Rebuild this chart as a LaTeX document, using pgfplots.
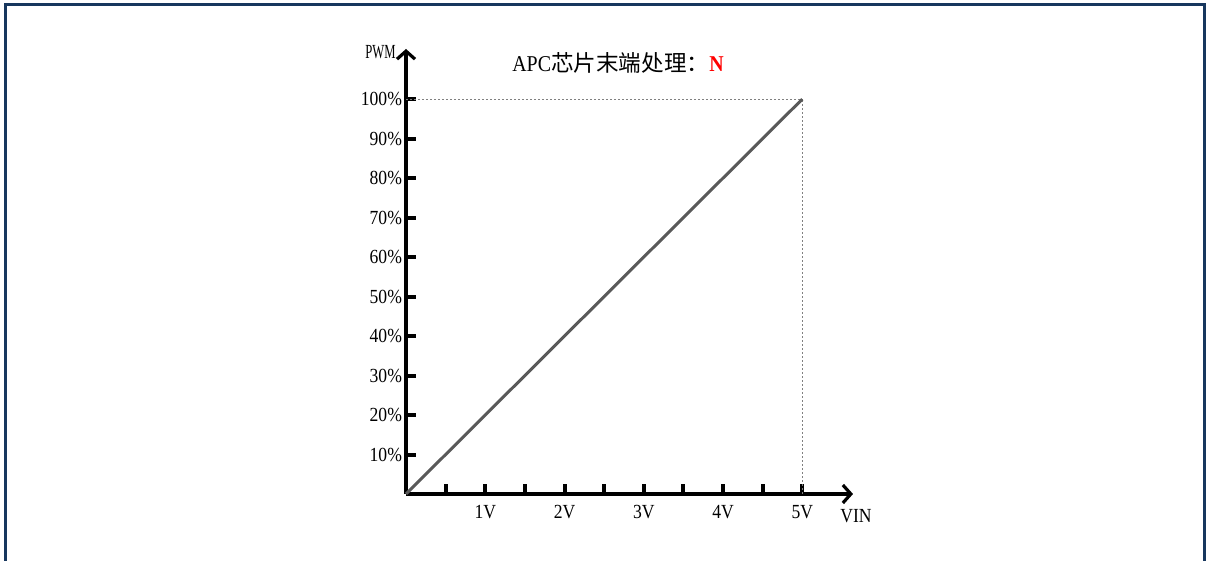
\documentclass[border=0pt]{standalone}
\usepackage{fontspec}
\setmainfont{Liberation Serif}[FakeStretch=0.88]
\newfontfamily\cjk{Noto Sans CJK SC}
\usepackage{xcolor}
\usepackage{graphicx}
\usepackage{pgfplots}
\pgfplotsset{compat=1.18}
\usetikzlibrary{arrows.meta}

\definecolor{frameblue}{RGB}{23,55,94}
\definecolor{linegray}{RGB}{89,89,89}

\begin{document}
\begin{tikzpicture}
  % canvas in reference pixels (1 px = 0.5pt)
  \begin{scope}[x=0.5pt,y=0.5pt]
    \useasboundingbox (0,0) rectangle (1207,561);
    \draw[frameblue, line width=1.5pt] (5,0) -- (5,556) -- (1204,556) -- (1204,0);
    \node at (618,498) {\fontsize{11.3}{13}\selectfont APC{\cjk 芯片末端处理：}\textcolor{red}{\textbf{N}}};
    \node[anchor=east, inner sep=0pt] at (396,509) {\fontsize{10}{12}\selectfont\scalebox{0.72}[1]{PWM}};
    \node[inner sep=0pt] at (856,45) {\fontsize{10}{12}\selectfont VIN};
  \end{scope}
  \begin{axis}[
      at={(203pt,33.5pt)}, anchor=south west,
      scale only axis,
      width=223.5pt, height=222.5pt,
      xmin=0, xmax=5.64,
      ymin=0, ymax=112.7,
      axis lines=left,
      axis line style={line width=2pt, -{Straight Barb[length=4pt,width=9pt,line width=1.6pt]}},
      tick align=inside,
      major tick length=5pt,
      tick style={line width=2pt, black},
      xtick={0.5,1,1.5,2,2.5,3,3.5,4,4.5,5},
      xticklabels={,1V,,2V,,3V,,4V,,5V},
      ytick={10,20,30,40,50,60,70,80,90,100},
      yticklabels={10\%,20\%,30\%,40\%,50\%,60\%,70\%,80\%,90\%,100\%},
      ticklabel style={font=\fontsize{10}{12}\selectfont},
      x tick label style={yshift=-2pt},
      y tick label style={xshift=1.5pt},
      clip=false,
    ]
    \addplot[gray, line width=0.6pt, dash pattern=on 1pt off 1pt] coordinates {(0,100) (5,100)};
    \addplot[gray, line width=0.6pt, dash pattern=on 1pt off 1pt] coordinates {(5,0) (5,100)};
    \addplot[linegray, line width=1.5pt] coordinates {(0,0) (5,100)};
  \end{axis}
\end{tikzpicture}
\end{document}
